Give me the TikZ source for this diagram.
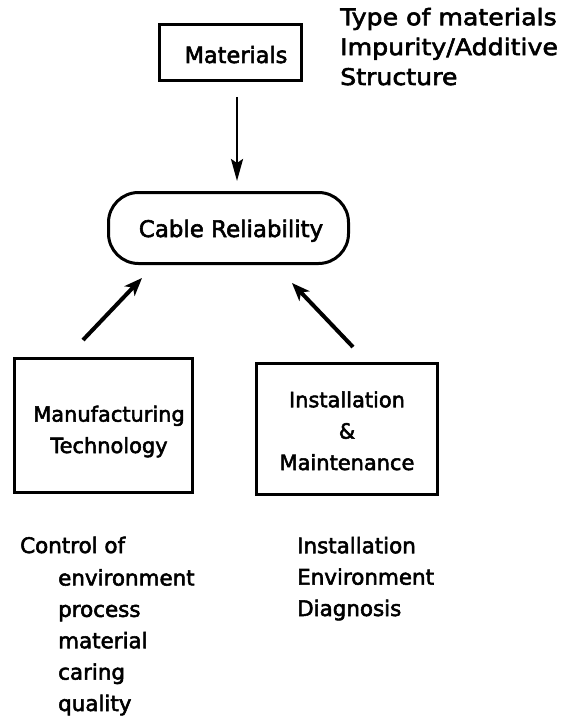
\documentclass[tikz,border=0pt]{standalone}
\usepackage{fontspec}
\setmainfont{DejaVu Sans}[FakeBold=2.5]
\newfontfamily\widefont{DejaVu Sans}[FakeBold=2.5,FakeStretch=1.1]
\usetikzlibrary{arrows.meta,calc}
\newcommand\dfont{\fontsize{21}{31.5}\selectfont}
\newcommand\lfont{\fontsize{21.5}{31.5}\selectfont}
\newcommand\bfontx{\fontsize{23}{31.5}\selectfont}
\newcommand\tfont{\widefont\fontsize{23}{30}\selectfont}
\begin{document}
\begin{tikzpicture}[x=1bp,y=-1bp,
  box/.style={draw, line width=3bp, inner sep=0pt},
  txt/.style={font=\dfont, inner sep=0pt, align=center},
  lst/.style={font=\lfont, inner sep=0pt, align=left},
  tlst/.style={font=\tfont, inner sep=0pt, align=left},
  arr/.style={-{Stealth[length=22bp,width=12bp,inset=4bp]}, line width=2.5bp},
  darr/.style={-{Stealth[length=18bp,width=14bp,inset=5bp]}, line width=4bp}]
\useasboundingbox (0,0) rectangle (564,723);
% boxes
\node[box, minimum width=142bp, minimum height=56bp] (mat) at (230.5,52.5) {};
\node[txt, font=\fontsize{22.5}{30}\selectfont, anchor=base] (matT) at (236,63) {Materials};
\node[box, rounded corners=30bp, minimum width=240bp, minimum height=71bp] (cable) at (228.5,228) {};
\node[txt, font=\bfontx, anchor=base] (cableT) at (231,237) {Cable Reliability};
\node[box, minimum width=178bp, minimum height=134bp] (manu) at (103.5,425.5) {};
\node[txt, anchor=base] (manuT) at (109,453) {Manufacturing\\Technology};
\node[box, minimum width=181bp, minimum height=131bp] (inst) at (347,429) {};
\node[txt, anchor=base] (instT) at (347,470) {Installation\\\&\\Maintenance};
% side texts
\node[tlst, anchor=base west] (matL) at (340,85) {Type of materials\\Impurity/Additive\\Structure};
\node[lst, anchor=base west] (ctrl) at (20,553) {Control of};
\node[lst, anchor=base west] (ctrlL) at (58,711) {environment\\process\\material\\caring\\quality};
\node[lst, anchor=base west] (instL) at (297,616) {Installation\\Environment\\Diagnosis};
% arrows
\draw[arr] ($(mat.south)+(6.5,15)$) -- ($(cable.north)+(8.5,-10)$);
\draw[darr] ($(manu.north)+(-20.5,-17)$) -- ($(cable.south)+(-86.5,13)$);
\draw[darr] ($(inst.north)+(6,-15)$) -- ($(cable.south)+(63.5,18)$);
\end{tikzpicture}
\end{document}
